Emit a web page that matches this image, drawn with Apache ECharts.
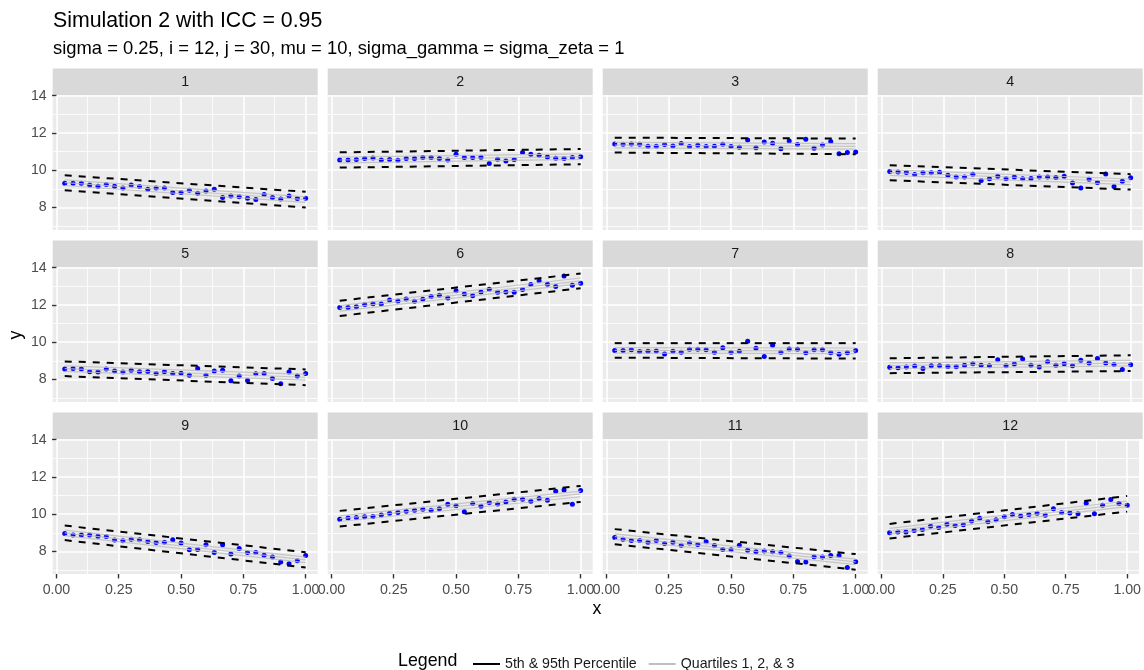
<!DOCTYPE html>
<html><head><meta charset="utf-8">
<script src="https://cdn.jsdelivr.net/npm/echarts@6/dist/echarts.min.js"></script>
<style>html,body{margin:0;padding:0;background:#fff}#c{width:1144px;height:670px}</style>
</head><body><div id="c"></div>
<script>
// ---------- data ----------
const panelLabels = ['1','2','3','4','5','6','7','8','9','10','11','12'];
const xValues = [0.0333,0.0667,0.1,0.1333,0.1667,0.2,0.2333,0.2667,0.3,0.3333,0.3667,0.4,0.4333,0.4667,0.5,
                 0.5333,0.5667,0.6,0.6333,0.6667,0.7,0.7333,0.7667,0.8,0.8333,0.8667,0.9,0.9333,0.9667,1.0];
const lineX = [0.0333, 1.0];
const y1  = [9.30,9.30,9.30,9.21,9.14,9.23,9.14,9.05,9.21,9.13,8.98,9.04,9.05,8.80,8.80,8.93,8.77,8.88,8.98,8.54,8.61,8.57,8.50,8.43,8.70,8.54,8.45,8.62,8.48,8.50];
const y2  = [10.55,10.55,10.57,10.63,10.66,10.55,10.57,10.54,10.63,10.63,10.68,10.68,10.63,10.55,10.86,10.68,10.68,10.70,10.36,10.59,10.50,10.57,10.95,10.86,10.80,10.71,10.64,10.63,10.68,10.73];
const y3  = [11.41,11.39,11.41,11.39,11.29,11.29,11.38,11.30,11.43,11.27,11.34,11.27,11.29,11.39,11.27,11.23,11.63,11.21,11.52,11.45,11.16,11.57,11.38,11.66,11.18,11.36,11.54,10.88,10.95,10.98];
const y4  = [9.93,9.91,9.88,9.77,9.86,9.86,9.89,9.73,9.63,9.64,9.79,9.45,9.54,9.68,9.54,9.64,9.54,9.55,9.64,9.63,9.61,9.68,9.32,9.05,9.52,9.34,9.80,9.13,9.41,9.59];
const y5  = [8.56,8.59,8.56,8.41,8.40,8.56,8.45,8.40,8.49,8.41,8.43,8.32,8.41,8.32,8.34,8.23,8.59,8.23,8.45,8.50,7.93,8.18,7.95,8.31,8.32,8.05,7.77,8.40,8.18,8.32];
const y6  = [11.86,11.86,11.91,12.02,12.07,12.05,12.27,12.22,12.32,12.20,12.31,12.45,12.52,12.38,12.76,12.59,12.50,12.70,12.85,12.68,12.70,12.68,12.83,13.10,13.30,13.12,12.99,13.55,13.06,13.17];
const y7  = [9.55,9.55,9.60,9.50,9.51,9.53,9.37,9.51,9.46,9.62,9.62,9.59,9.46,9.71,9.46,9.51,10.05,9.68,9.24,9.84,9.46,9.64,9.62,9.44,9.59,9.59,9.44,9.35,9.44,9.55];
const y8  = [8.65,8.63,8.67,8.72,8.59,8.74,8.74,8.70,8.68,8.76,8.85,8.76,8.74,9.06,8.74,8.83,9.10,8.76,8.67,8.95,8.77,8.85,8.74,9.03,8.88,9.12,8.88,8.81,8.54,8.79];
const y9  = [8.96,8.89,8.88,8.89,8.82,8.80,8.61,8.57,8.66,8.63,8.54,8.48,8.50,8.63,8.45,8.09,8.11,8.36,7.95,8.36,7.86,8.16,7.95,7.95,7.80,7.70,7.43,7.34,7.50,7.79];
const y10 = [9.73,9.80,9.82,9.86,9.88,9.96,10.05,10.09,10.16,10.21,10.27,10.21,10.29,10.54,10.46,10.13,10.57,10.43,10.63,10.55,10.66,10.80,10.80,10.70,10.84,10.75,11.23,11.30,10.54,11.27];
const y11 = [8.75,8.66,8.59,8.59,8.50,8.59,8.43,8.50,8.34,8.46,8.38,8.52,8.32,8.11,8.09,8.34,8.07,7.98,8.02,7.98,7.95,7.75,7.46,7.43,7.71,7.70,7.79,7.79,7.14,7.45];
const y12 = [9.00,9.04,9.05,9.13,9.18,9.36,9.29,9.46,9.39,9.43,9.63,9.79,9.59,9.70,9.86,9.98,9.91,9.98,10.05,9.95,10.29,10.09,10.07,10.02,10.59,10.02,10.48,10.79,10.57,10.48];
const pointsByPanel = [y1,y2,y3,y4,y5,y6,y7,y8,y9,y10,y11,y12];
// percentile lines: [value at first x, value at last x] per panel
const pct05 = [[8.93,8.00],[10.14,10.32],[10.95,10.86],[9.46,8.96],[8.18,7.69],[11.41,12.90],[9.17,9.12],[8.34,8.45],[8.61,7.14],[9.34,10.66],[8.39,7.02],[8.70,10.14]];
const pct25 = [[9.18,8.27],[10.40,10.58],[11.20,11.13],[9.72,9.23],[8.43,7.97],[11.67,13.15],[9.41,9.39],[8.59,8.73],[8.85,7.40],[9.61,10.94],[8.65,7.29],[8.94,10.41]];
const pct50 = [[9.33,8.42],[10.55,10.73],[11.35,11.28],[9.87,9.38],[8.58,8.12],[11.82,13.30],[9.56,9.54],[8.74,8.88],[9.00,7.55],[9.76,11.09],[8.80,7.44],[9.09,10.56]];
const pct75 = [[9.48,8.57],[10.70,10.88],[11.50,11.43],[10.02,9.53],[8.73,8.27],[11.97,13.45],[9.71,9.69],[8.89,9.03],[9.15,7.70],[9.91,11.24],[8.95,7.59],[9.24,10.71]];
const pct95 = [[9.73,8.84],[10.96,11.14],[11.75,11.70],[10.27,9.79],[8.97,8.54],[12.23,13.69],[9.95,9.95],[9.14,9.30],[9.39,7.96],[10.18,11.52],[9.20,7.86],[9.48,10.98]];
const xTicks = [0, 0.25, 0.5, 0.75, 1];
const xMinorTicks = [0.125, 0.375, 0.625, 0.875];
const yTicks = [8, 10, 12, 14];
const yMinorTicks = [7, 9, 11, 13];
const legendOuter = '5th & 95th Percentile';
const legendInner = 'Quartiles 1, 2, & 3';

// ---------- layout ----------
const FONT = '"Liberation Sans", Arial, Helvetica, sans-serif';
const colLeft = [52.7, 327.7, 602.7, 877.7];
const rowTop = [95, 267, 439];
const PW = 265, PH = 135, STRIP = 26.6;
const X_MIN = -0.015, X_MAX = 1.0483, Y_MIN = 6.79, Y_MAX = 14.04;

const grids = [], xAxes = [], yAxes = [], series = [], graphics = [];
panelLabels.forEach((lab, p) => {
  const r = Math.floor(p / 4), c = p % 4;
  const left = colLeft[c], top = rowTop[r];
  const bottomRow = r === 2, leftCol = c === 0;
  grids.push({left, top, width: PW, height: PH, show: true, backgroundColor: '#EBEBEB', borderWidth: 0, containLabel: false});
  graphics.push({type: 'rect', left: left, top: top - STRIP, shape: {width: PW, height: STRIP}, style: {fill: '#D9D9D9'}, silent: true});
  graphics.push({type: 'text', x: left + PW / 2, y: top - STRIP / 2, style: {text: lab, fill: '#1A1A1A', fontSize: 14.2, fontFamily: FONT, align: 'center', verticalAlign: 'middle'}, silent: true});
  xAxes.push({gridIndex: p, type: 'value', min: X_MIN, max: X_MAX, position: 'bottom',
    axisLine: {show: false},
    axisTick: {show: bottomRow, customValues: xTicks, length: 4.4, lineStyle: {color: '#333333', width: 1.4}},
    axisLabel: {show: bottomRow, customValues: xTicks, formatter: v => v.toFixed(2), color: '#4D4D4D', fontSize: 14.2, fontFamily: FONT, margin: 9.5},
    splitLine: {show: true, lineStyle: {color: '#FFFFFF', width: 1.6}}});
  xAxes.push({gridIndex: p, type: 'value', min: X_MIN, max: X_MAX, position: 'top',
    axisLine: {show: false}, axisTick: {show: false, customValues: xMinorTicks},
    axisLabel: {show: false, customValues: xMinorTicks},
    splitLine: {show: true, lineStyle: {color: '#FFFFFF', width: 0.8}}});
  yAxes.push({gridIndex: p, type: 'value', min: Y_MIN, max: Y_MAX, position: 'left',
    axisLine: {show: false},
    axisTick: {show: leftCol, customValues: yTicks, length: 4.4, lineStyle: {color: '#333333', width: 1.4}},
    axisLabel: {show: leftCol, customValues: yTicks, color: '#4D4D4D', fontSize: 14.2, fontFamily: FONT, margin: 6},
    splitLine: {show: true, lineStyle: {color: '#FFFFFF', width: 1.6}}});
  yAxes.push({gridIndex: p, type: 'value', min: Y_MIN, max: Y_MAX, position: 'right',
    axisLine: {show: false}, axisTick: {show: false, customValues: yMinorTicks},
    axisLabel: {show: false, customValues: yMinorTicks},
    splitLine: {show: true, lineStyle: {color: '#FFFFFF', width: 0.8}}});
  const xi = 2 * p, yi = 2 * p;
  series.push({type: 'scatter', xAxisIndex: xi, yAxisIndex: yi, symbol: 'circle', symbolSize: 5, z: 2,
    itemStyle: {color: '#0000FF', opacity: 1}, silent: true,
    data: xValues.map((x, i) => [x, pointsByPanel[p][i]])});
  [pct25, pct50, pct75].forEach(arr => {
    series.push({type: 'line', name: legendInner, xAxisIndex: xi, yAxisIndex: yi, symbol: 'none', z: 3, silent: true,
      color: '#BEBEBE', lineStyle: {color: 'rgba(190,190,190,0.85)', width: 1.2},
      data: lineX.map((x, i) => [x, arr[p][i]])});
  });
  [pct05, pct95].forEach(arr => {
    series.push({type: 'line', name: legendOuter, xAxisIndex: xi, yAxisIndex: yi, symbol: 'none', z: 4, silent: true,
      color: '#000000', lineStyle: {color: '#000000', width: 2, type: [7, 7], cap: 'butt'},
      data: lineX.map((x, i) => [x, arr[p][i]])});
  });
});

graphics.push({type: 'text', x: 53, y: 21, style: {text: 'Simulation 2 with ICC = 0.95', fill: '#000000', fontSize: 21.3, fontFamily: FONT, align: 'left', verticalAlign: 'middle'}});
graphics.push({type: 'text', x: 53, y: 49, style: {text: 'sigma = 0.25, i = 12, j = 30, mu = 10, sigma_gamma = sigma_zeta = 1', fill: '#000000', fontSize: 18.4, fontFamily: FONT, align: 'left', verticalAlign: 'middle'}});
graphics.push({type: 'text', x: 597, y: 609, style: {text: 'x', fill: '#000000', fontSize: 17.8, fontFamily: FONT, align: 'center', verticalAlign: 'middle'}});
graphics.push({type: 'text', x: 16, y: 335, rotation: Math.PI / 2, style: {text: 'y', fill: '#000000', fontSize: 17.8, fontFamily: FONT, align: 'center', verticalAlign: 'middle'}});
graphics.push({type: 'text', x: 398, y: 661, style: {text: 'Legend', fill: '#000000', fontSize: 17.8, fontFamily: FONT, align: 'left', verticalAlign: 'middle'}});

const chart = echarts.init(document.getElementById('c'), null, {renderer: 'canvas'});
chart.setOption({
  animation: false,
  backgroundColor: '#FFFFFF',
  grid: grids, xAxis: xAxes, yAxis: yAxes, series: series,
  graphic: graphics,
  legend: {left: 468, top: 652, itemWidth: 27, itemHeight: 2, itemGap: 12,
    textStyle: {fontSize: 14.2, color: '#1A1A1A', fontFamily: FONT},
    data: [{name: legendOuter, icon: 'rect', itemStyle: {color: '#000000'}},
           {name: legendInner, icon: 'rect', itemStyle: {color: '#BEBEBE'}}]}
});
</script></body></html>
